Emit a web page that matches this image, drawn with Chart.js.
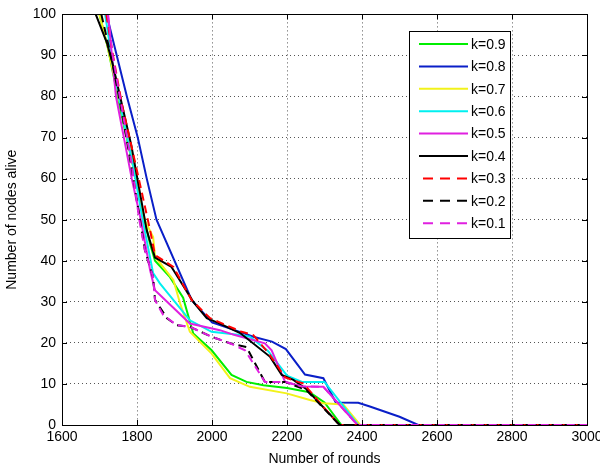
<!DOCTYPE html>
<html><head><meta charset="utf-8">
<script src="https://cdn.jsdelivr.net/npm/chart.js@4.4.1/dist/chart.umd.min.js"></script>
<style>html,body{margin:0;padding:0;background:#fff;}canvas{display:block;}</style>
</head><body>
<canvas id="c" width="600" height="468"></canvas>
<script>
// ---- data ----
const seriesLabels = ['k=0.9','k=0.8','k=0.7','k=0.6','k=0.5','k=0.4','k=0.3','k=0.2','k=0.1'];
const xTicks = [1600,1800,2000,2200,2400,2600,2800,3000];
const yTicks = [0,10,20,30,40,50,60,70,80,90,100];

const k09Rounds = [1700,1722,1760,1797,1820,1835,1848,1888,1923,1950,1999,2052,2092,2137,2200,2260,2300,2345,3000];
const k09Alive  = [100,92,75,60,50,44,40,36,31,22.3,18.2,12.2,10.5,9.7,9,8,5.5,0,0];

const k08Rounds = [1719,1746,1773,1802,1826,1852,1946,2000,2080,2110,2160,2197,2248,2297,2330,2390,2421,2500,2550,3000];
const k08Alive  = [100,90,80,70,60,50,30.4,25,22.5,21.5,20.3,18.5,12.3,11.4,5.5,5.4,4.5,2,0,0];

const k07Rounds = [1700,1722,1760,1797,1820,1843,1848,1897,1915,1941,1999,2048,2101,2199,2261,2297,2350,2395,3000];
const k07Alive  = [100,92,76,60,50,45.8,41,35.3,29.6,22.7,17.4,11.4,9.3,7.7,6.1,5.3,5,0,0];

const k06Rounds = [1715,1735,1760,1790,1815,1843,1861,1941,1999,2075,2101,2150,2200,2240,2300,2390,3000];
const k06Alive  = [100,88,76,63,50,37,34.5,25.5,22.7,21.9,21.5,18,12,10.5,10.5,0,0];

const k05Rounds = [1723,1733,1744,1765,1786,1810,1835,1848,1941,2021,2061,2141,2159,2195,2240,2297,2388,3000];
const k05Alive  = [100,90,80,70,60,50,37.7,32.8,24.7,23.1,21.9,19.9,18.2,10.5,9.4,9.3,0,0];

const k04Rounds = [1690,1720,1735,1760,1785,1805,1826,1848,1892,1950,1986,2021,2075,2155,2186,2217,2252,2341,3000];
const k04Alive  = [100,93,88,78,68,58,47.4,40.8,38.5,30,26,24.7,22.4,16.6,12.2,11,8.7,0,0];

const k03Rounds = [1718,1736,1760,1790,1812,1835,1848,1897,1946,1995,2079,2110,2150,2195,2230,2244,2296,2340,3000];
const k03Alive  = [100,90,78,66,57,47.4,41.4,38.5,30.4,26,22.7,21.9,17.6,11.6,10.5,10.1,4.5,0,0];

const k02Rounds = [1705,1735,1760,1785,1808,1821,1843,1848,1880,1906,1941,1999,2048,2092,2141,2195,2252,2340,3000];
const k02Alive  = [100,88,76,63,50,42.6,36,30.5,26,24.3,23.9,21.5,19.9,19,10.5,10.5,8.5,0,0];

const k01Rounds = [1722,1735,1760,1785,1806,1821,1843,1848,1870,1906,1941,1999,2048,2088,2141,2195,2240,2297,2388,3000];
const k01Alive  = [100,90,77,64,50,42.6,36,30.4,26.8,24.3,23.9,21.5,19.9,18.2,10.5,10.5,9.4,9.3,0,0];

const seriesRounds = [k09Rounds,k08Rounds,k07Rounds,k06Rounds,k05Rounds,k04Rounds,k03Rounds,k02Rounds,k01Rounds];
const seriesAlive  = [k09Alive,k08Alive,k07Alive,k06Alive,k05Alive,k04Alive,k03Alive,k02Alive,k01Alive];
const seriesColors = ['#00ee00','#0a1fc8','#f2f21a','#00f0f0','#e020e0','#000000','#ff0000','#000000','#e020e0'];
const seriesDash   = [[],[],[],[],[],[],[8,5],[8,5],[8,5]];

const FONT = '"Liberation Sans", Arial, sans-serif';

const datasets = seriesLabels.map((lab, i) => ({
  label: lab,
  data: seriesRounds[i].map((x, j) => ({x: x, y: seriesAlive[i][j]})),
  borderColor: seriesColors[i],
  backgroundColor: seriesColors[i],
  borderWidth: 2,
  borderDash: seriesDash[i],
  pointRadius: 0,
  tension: 0,
  fill: false,
  order: seriesLabels.length - i
}));

const boxPlugin = {
  id: 'matlabBox',
  afterDraw(chart) {
    const ctx = chart.ctx, a = chart.chartArea;
    const xs = chart.scales.x, ys = chart.scales.y;
    ctx.save();
    ctx.strokeStyle = '#000'; ctx.lineWidth = 1; ctx.setLineDash([]);
    const tl = 5;
    ctx.beginPath();
    xTicks.forEach(v => {
      const px = Math.round(xs.getPixelForValue(v)) + 0.5;
      ctx.moveTo(px, a.bottom); ctx.lineTo(px, a.bottom - tl);
      ctx.moveTo(px, a.top); ctx.lineTo(px, a.top + tl);
    });
    yTicks.forEach(v => {
      const py = Math.round(ys.getPixelForValue(v)) + 0.5;
      ctx.moveTo(a.left, py); ctx.lineTo(a.left + tl, py);
      ctx.moveTo(a.right, py); ctx.lineTo(a.right - tl, py);
    });
    ctx.stroke();
    ctx.strokeRect(Math.round(a.left) + 0.5, Math.round(a.top) + 0.5, Math.round(a.right - a.left), Math.round(a.bottom - a.top));
    // legend
    const lx0 = 409.5, ly0 = 31.5, lx1 = 510.5, ly1 = 238.5;
    ctx.fillStyle = '#fff';
    ctx.fillRect(lx0, ly0, lx1 - lx0, ly1 - ly0);
    ctx.strokeRect(lx0, ly0, lx1 - lx0, ly1 - ly0);
    ctx.font = '14px ' + FONT;
    ctx.textBaseline = 'middle';
    ctx.textAlign = 'left';
    chart.data.datasets.forEach((ds, i) => {
      const y = 44 + i * 22.4;
      ctx.beginPath();
      ctx.strokeStyle = ds.borderColor;
      ctx.lineWidth = 2;
      ctx.setLineDash(ds.borderDash.length ? [10, 7] : []);
      ctx.lineDashOffset = ds.borderDash.length ? -4 : 0;
      ctx.moveTo(419, y); ctx.lineTo(468, y);
      ctx.stroke();
      ctx.setLineDash([]);
      ctx.fillStyle = '#000';
      ctx.fillText(ds.label, 471, y + 1);
    });
    ctx.restore();
  }
};

new Chart(document.getElementById('c'), {
  type: 'line',
  data: { datasets: datasets },
  plugins: [boxPlugin],
  options: {
    responsive: false,
    animation: false,
    devicePixelRatio: 1,
    layout: { padding: { top: 14, right: 13, left: 0, bottom: 0 } },
    plugins: { legend: { display: false }, tooltip: { enabled: false } },
    scales: {
      x: {
        type: 'linear', min: 1600, max: 3000,
        afterBuildTicks: s => { s.ticks = xTicks.map(v => ({value: v})); },
        afterFit: s => { s.height = 43; s.paddingLeft = 0; s.paddingRight = 0; },
        ticks: { color: '#000', font: { family: FONT, size: 14 }, padding: 4, maxRotation: 0, autoSkip: false, callback: v => String(v) },
        grid: { color: '#555', lineWidth: 1, drawTicks: false },
        border: { display: false, dash: [1, 3] },
        title: { display: true, text: 'Number of rounds', color: '#000', font: { family: FONT, size: 14 }, padding: { top: 0, bottom: 0 } }
      },
      y: {
        type: 'linear', min: 0, max: 100,
        afterBuildTicks: s => { s.ticks = yTicks.map(v => ({value: v})); },
        afterFit: s => { s.width = 62; },
        ticks: { color: '#000', font: { family: FONT, size: 14 }, padding: 6, autoSkip: false, callback: v => String(v) },
        grid: { color: '#555', lineWidth: 1, drawTicks: false },
        border: { display: false, dash: [1, 3] },
        title: { display: true, text: 'Number of nodes alive', color: '#000', font: { family: FONT, size: 14 }, padding: { top: 4, bottom: 0 } }
      }
    }
  }
});
</script>
</body></html>
